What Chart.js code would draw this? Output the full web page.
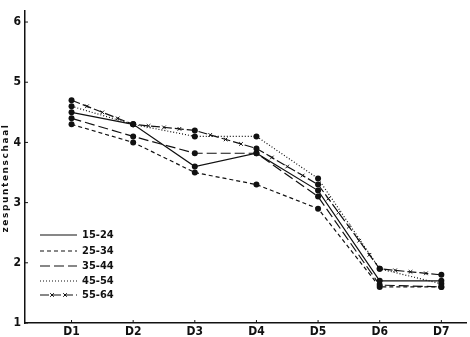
<!DOCTYPE html>
<html>
<head>
<meta charset="utf-8">
<script src="https://cdn.jsdelivr.net/npm/chart.js@4"></script>
<style>
  html, body { margin: 0; padding: 0; background: #fff; }
  #wrap { width: 470px; height: 337px; }
</style>
</head>
<body>
<div id="wrap"><canvas id="chart"></canvas></div>
<script>
const categories = ["D1", "D2", "D3", "D4", "D5", "D6", "D7"];
const groups = ["15-24", "25-34", "35-44", "45-54", "55-64"];

const age15_24 = [4.5, 4.3, 3.6, 3.82, 3.2, 1.7, 1.7];
const age25_34 = [4.3, 4.0, 3.5, 3.3, 2.9, 1.6, 1.6];
const age35_44 = [4.4, 4.1, 3.82, 3.82, 3.1, 1.63, 1.6];
const age45_54 = [4.6, 4.3, 4.1, 4.1, 3.4, 1.9, 1.65];
const age55_64 = [4.7, 4.3, 4.2, 3.9, 3.3, 1.9, 1.8];

const yTicks = [1, 2, 3, 4, 5, 6];

const series = [age15_24, age25_34, age35_44, age45_54, age55_64];
const dashes = [[], [4, 3], [10, 4], [1, 2], [9, 3]];

function toPoints(values) {
  return values.map((v, i) => ({ x: i + 1, y: v }));
}

const datasets = series.map((vals, i) => ({
  label: groups[i],
  data: toPoints(vals),
  borderColor: "#111",
  borderWidth: 1.2,
  borderDash: dashes[i],
  pointRadius: 3,
  pointBackgroundColor: "#111",
  pointBorderColor: "#111",
  pointBorderWidth: 0,
  tension: 0
}));

function drawCross(ctx, x, y, s) {
  ctx.beginPath();
  ctx.moveTo(x - s, y - s); ctx.lineTo(x + s, y + s);
  ctx.moveTo(x - s, y + s); ctx.lineTo(x + s, y - s);
  ctx.stroke();
}

// little x marks along the 55-64 line, the legend and the inner tick marks
const extras = {
  id: "extras",
  afterDatasetsDraw(chart) {
    const ctx = chart.ctx;
    const meta = chart.getDatasetMeta(4);
    ctx.save();
    ctx.strokeStyle = "#111";
    ctx.lineWidth = 1;
    ctx.setLineDash([]);
    for (let i = 0; i < meta.data.length - 1; i++) {
      const a = meta.data[i], b = meta.data[i + 1];
      const len = Math.hypot(b.x - a.x, b.y - a.y);
      const n = Math.max(1, Math.round(len / 17) - 1);
      for (let k = 1; k <= n; k++) {
        const t = k / (n + 1);
        drawCross(ctx, a.x + (b.x - a.x) * t, a.y + (b.y - a.y) * t, 1.8);
      }
    }
    ctx.restore();
  },
  afterDraw(chart) {
    const ctx = chart.ctx;
    const area = chart.chartArea;
    const xs = chart.scales.x, ys = chart.scales.y;
    ctx.save();
    ctx.strokeStyle = "#111";
    ctx.lineWidth = 1;
    // inner tick marks
    yTicks.forEach(v => {
      const py = ys.getPixelForValue(v);
      ctx.beginPath(); ctx.moveTo(area.left, py); ctx.lineTo(area.left + 3, py); ctx.stroke();
    });
    categories.forEach((c, i) => {
      const px = xs.getPixelForValue(i + 1);
      ctx.beginPath(); ctx.moveTo(px, area.bottom); ctx.lineTo(px, area.bottom - 3); ctx.stroke();
    });

    // legend
    const x0 = area.left + 15, x1 = area.left + 52;
    const rowY = [235, 251, 266, 281, 295];
    ctx.font = "bold 11px 'DejaVu Sans Condensed', 'DejaVu Sans', sans-serif";
    ctx.textBaseline = "middle";
    ctx.fillStyle = "#111";
    groups.forEach((g, i) => {
      const y = rowY[i];
      ctx.setLineDash(dashes[i]);
      ctx.lineWidth = 1.2;
      ctx.beginPath(); ctx.moveTo(x0, y); ctx.lineTo(x1, y); ctx.stroke();
      ctx.setLineDash([]);
      if (i === 4) {
        ctx.lineWidth = 1;
        drawCross(ctx, x0 + 12, y, 1.8);
        drawCross(ctx, x0 + 25, y, 1.8);
      }
      ctx.fillText(g, x1 + 5, y);
    });

    // axis title
    ctx.translate(6, 178);
    ctx.rotate(-Math.PI / 2);
    ctx.textAlign = "center";
    ctx.font = "bold 9px 'DejaVu Sans', sans-serif";
    ctx.letterSpacing = "1.6px";
    ctx.fillText("zespuntenschaal", 0, 0);
    ctx.restore();
  }
};

new Chart(document.getElementById("chart"), {
  type: "line",
  data: { datasets },
  options: {
    responsive: true,
    maintainAspectRatio: false,
    animation: false,
    layout: { padding: 0 },
    plugins: {
      legend: { display: false },
      tooltip: { enabled: false }
    },
    scales: {
      x: {
        type: "linear",
        min: 0.245,
        max: 7.4,
        afterBuildTicks: s => { s.ticks = categories.map((c, i) => ({ value: i + 1 })); },
        afterFit: s => { s.height = 14; },
        grid: { display: false, drawTicks: false, tickLength: 0 },
        border: { display: true, color: "#111", width: 1.5 },
        ticks: {
          color: "#111",
          padding: 2,
          font: { family: "'DejaVu Sans Condensed', 'DejaVu Sans', sans-serif", size: 12, weight: "bold" },
          callback: (v) => categories[v - 1] || ""
        }
      },
      y: {
        min: 1,
        max: 6.18,
        afterBuildTicks: s => { s.ticks = yTicks.map(v => ({ value: v })); },
        afterFit: s => { s.width = 25; },
        grid: { display: false, drawTicks: false, tickLength: 0 },
        border: { display: true, color: "#111", width: 1.5 },
        ticks: {
          color: "#111",
          padding: 4,
          font: { family: "'DejaVu Sans Condensed', 'DejaVu Sans', sans-serif", size: 12, weight: "bold" }
        }
      }
    }
  },
  plugins: [extras]
});
</script>
</body>
</html>
